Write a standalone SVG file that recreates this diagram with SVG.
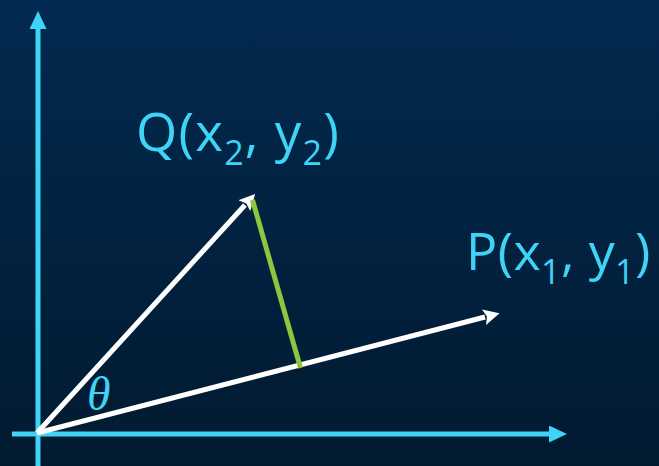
<svg xmlns="http://www.w3.org/2000/svg" width="659" height="466" viewBox="0 0 659 466">
<defs>
<linearGradient id="bg" x1="0" y1="0" x2="0" y2="1">
<stop offset="0" stop-color="#022a50"/>
<stop offset="1" stop-color="#011a30"/>
</linearGradient>
<marker id="ax" viewBox="0 0 18 17" refX="0" refY="8.5" markerWidth="18" markerHeight="17" markerUnits="userSpaceOnUse" orient="auto">
<path d="M0,0 L18,8.5 L0,17 z" fill="#3fd3f6"/>
</marker>
<marker id="wh" viewBox="0 0 16 16" refX="1" refY="8" markerWidth="16" markerHeight="16" markerUnits="userSpaceOnUse" orient="auto">
<path d="M0,0 L16,8 L0,16 L3,8 z" fill="#ffffff"/>
</marker>
<style>
.axis{stroke:#3fd3f6;stroke-width:5;fill:none}
.vec{stroke:#ffffff;stroke-width:5;fill:none}
.proj{stroke:#8dc63f;stroke-width:5;fill:none}
.lbl{font-family:"Open Sans","Noto Sans",sans-serif;fill:#3fd3f6;font-size:53px;letter-spacing:1.2px}
.lblp{font-size:52px;letter-spacing:0.4px}
.sub{font-size:34px}
.th{font-family:"Liberation Serif",serif;font-style:italic;fill:#3fd3f6;font-size:48px}
</style>
</defs>
<rect width="659" height="466" fill="url(#bg)"/>
<g id="connectors">
<line class="axis" x1="38" y1="466" x2="38" y2="29" marker-end="url(#ax)"/>
<line class="axis" x1="12" y1="434" x2="549" y2="434" marker-end="url(#ax)"/>
<line class="vec" x1="37" y1="433" x2="245" y2="205" marker-end="url(#wh)"/>
<line class="vec" x1="37" y1="433" x2="485" y2="317" marker-end="url(#wh)"/>
<line class="proj" x1="252.5" y1="200" x2="300.5" y2="368"/>
</g>
<g id="node-Q">
<text class="lbl" x="136" y="151">Q(x<tspan class="sub" dy="14">2</tspan><tspan dy="-14">, y</tspan><tspan class="sub" dy="14">2</tspan><tspan dy="-14">)</tspan></text>
</g>
<g id="node-P">
<text class="lbl lblp" x="466" y="270">P(x<tspan class="sub" dy="14">1</tspan><tspan dy="-14">, y</tspan><tspan class="sub" dy="14">1</tspan><tspan dy="-14">)</tspan></text>
</g>
<g id="node-theta">
<text class="th" x="87" y="410">θ</text>
</g>
</svg>
